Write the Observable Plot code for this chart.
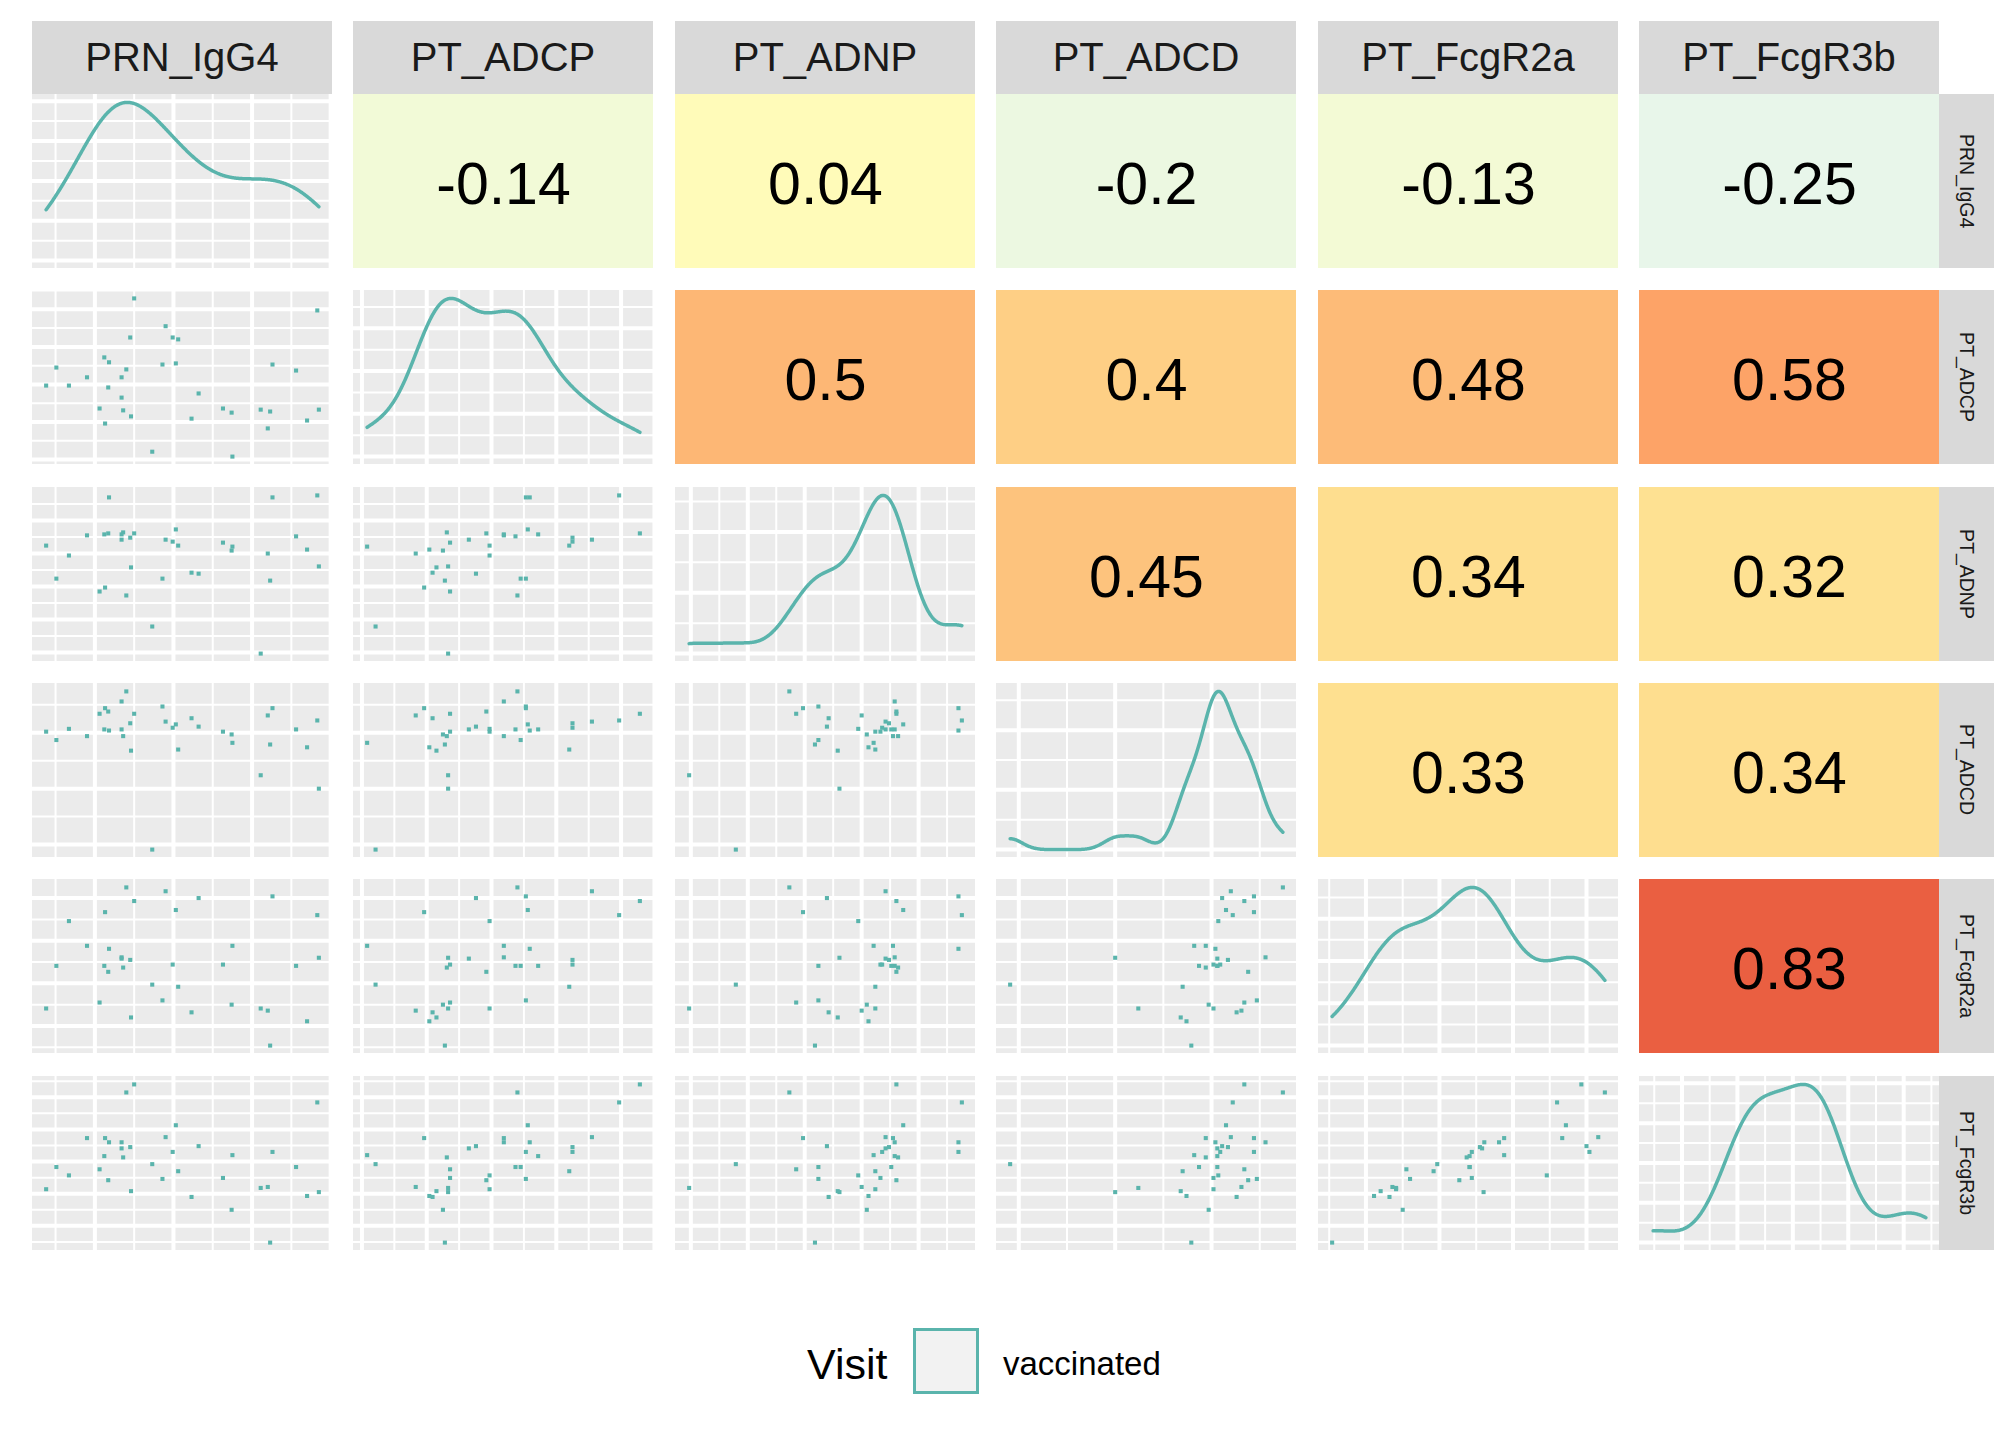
<!DOCTYPE html>
<html><head><meta charset="utf-8">
<script src="https://cdn.jsdelivr.net/npm/d3@7"></script>
<script src="https://cdn.jsdelivr.net/npm/@observablehq/plot@0.6"></script>
<style>
html,body{margin:0;padding:0;background:#fff;}
#chart{position:relative;width:2016px;height:1440px;font-family:"Liberation Sans",Arial,sans-serif;overflow:hidden;}
.abs{position:absolute;}
.abs svg{display:block;}
.strip-top{background:#d9d9d9;display:flex;align-items:center;justify-content:center;color:#1a1a1a;font-size:40px;}
.strip-right{background:#d9d9d9;display:flex;align-items:center;justify-content:center;color:#1a1a1a;font-size:19.5px;writing-mode:vertical-rl;}
</style></head><body><div id="chart"></div><script>
// ---- data (arbitrary units) ----
const variables = ["PRN_IgG4","PT_ADCP","PT_ADNP","PT_ADCD","PT_FcgR2a","PT_FcgR3b"];
const PRN_IgG4 = [0.38,0.51,0.67,0.90,1.06,1.12,1.13,1.17,1.18,1.34,1.34,1.36,1.40,1.45,1.46,1.50,1.73,1.86,1.90,1.99,2.03,2.06,2.23,2.32,2.63,2.74,2.75,3.11,3.20,3.23,3.26,3.56,3.70,3.83,3.85];
const PT_ADCP = [2.97,3.45,2.97,3.19,2.36,3.72,1.96,2.92,3.59,3.19,2.65,2.31,3.40,4.25,2.15,5.29,1.21,3.53,4.55,4.25,3.56,4.20,2.09,2.76,2.36,2.25,1.08,2.33,1.83,2.28,3.53,3.37,2.04,4.97,2.33];
const PT_ADNP = [4.24,3.24,3.94,4.55,2.85,4.58,2.97,4.61,5.70,4.58,4.42,4.64,2.73,4.48,3.58,4.61,1.79,3.24,4.42,4.36,4.73,4.24,3.42,3.39,4.33,4.09,4.21,0.97,4.00,3.18,5.70,4.52,4.12,5.76,3.61];
const PT_ADCD = [3.02,2.87,3.07,2.94,3.34,3.06,3.44,3.38,3.04,3.56,3.06,2.94,3.74,3.17,2.68,3.34,0.91,3.47,3.20,3.09,3.15,2.70,3.26,3.11,3.02,2.97,2.82,2.24,3.31,2.79,3.44,3.06,2.74,3.22,2.00];
const PT_FcgR2a = [1.41,2.41,3.46,2.88,1.55,2.41,3.67,2.27,2.81,2.61,2.58,2.37,4.25,2.55,1.20,3.93,1.97,1.60,4.16,2.44,3.72,1.92,1.32,4.00,2.44,1.50,2.88,1.41,1.36,0.54,4.04,2.41,1.11,3.60,2.60];
const PT_FcgR3b = [2.14,2.83,2.57,3.73,2.76,3.17,3.73,2.42,3.60,3.60,3.41,3.13,5.15,3.45,2.08,5.40,2.92,2.46,3.76,3.30,4.13,2.70,1.90,3.48,2.49,1.50,3.20,2.18,2.21,0.48,3.30,2.83,1.93,4.84,2.05];
// correlations shown in the upper triangle, row by row
const corrValues = [-0.14,0.04,-0.2,-0.13,-0.25, 0.5,0.4,0.48,0.58, 0.45,0.34,0.32, 0.33,0.34, 0.83];
const corrColorDomain = [-1,-2/3,-1/3,0,1/3,2/3,1];
const corrColorRange = ["#4575b4","#91bfdb","#e0f3f8","#ffffbf","#fee090","#fc8d59","#d73027"];
const legendTitle = "Visit";
const legendLabel = "vaccinated";

// ---- helpers ----
const series = {PRN_IgG4, PT_ADCP, PT_ADNP, PT_ADCD, PT_FcgR2a, PT_FcgR3b};
const teal = "#5ab4ac";
const FONT = "Liberation Sans, Arial, sans-serif";
const W = 300, H = 174;
const colLeft = j => Math.round(32 + j * 321.4);
const rowTop = i => Math.round(94 + i * 196.3);
const chart = document.getElementById("chart");

function expanded(vals) {
  const [a, b] = d3.extent(vals);
  const p = (b - a) * 0.05;
  return [a - p, b + p];
}
function gridTicks(dom) {
  const [lo, hi] = dom;
  const major = d3.range(Math.ceil(lo), Math.floor(hi) + 1).filter(v => v > lo && v < hi);
  const minor = d3.range(Math.floor(lo) + 0.5, hi, 1).filter(v => v > lo && v < hi);
  return {major, minor};
}
function densityTicks(dom) {
  const [lo, hi] = dom;
  const major = d3.ticks(lo, hi, 4).filter(v => v > lo && v < hi);
  const inc = d3.tickIncrement(lo, hi, 4);
  const step = inc > 0 ? inc : 1 / -inc;
  const minor = [];
  if (major.length) {
    for (let v = major[0] - step / 2; v < hi; v += step) if (v > lo) minor.push(v);
  }
  return {major, minor};
}
function kde(vals) {
  const n = vals.length;
  const sd = d3.deviation(vals);
  const sorted = vals.slice().sort(d3.ascending);
  const iqr = d3.quantileSorted(sorted, 0.75) - d3.quantileSorted(sorted, 0.25);
  let lo = Math.min(sd, iqr / 1.34);
  if (!(lo > 0)) lo = sd;
  const bw = 0.9 * lo * Math.pow(n, -0.2);
  const [a, b] = d3.extent(vals);
  const pts = [];
  for (let k = 0; k < 512; k++) {
    const x = a + (b - a) * k / 511;
    let s = 0;
    for (const v of vals) { const u = (x - v) / bw; s += Math.exp(-0.5 * u * u); }
    pts.push({x, y: s / (n * bw * Math.sqrt(2 * Math.PI))});
  }
  return pts;
}
function gridMarks(xt, yt) {
  const g = {stroke: "#ffffff", strokeOpacity: 1};
  return [
    Plot.gridX(xt.minor, {...g, strokeWidth: 2}),
    Plot.gridY(yt.minor, {...g, strokeWidth: 2}),
    Plot.gridX(xt.major, {...g, strokeWidth: 4}),
    Plot.gridY(yt.major, {...g, strokeWidth: 4})
  ];
}
function place(el, left, top) {
  const d = document.createElement("div");
  d.className = "abs";
  d.style.left = left + "px";
  d.style.top = top + "px";
  d.appendChild(el);
  chart.appendChild(d);
}

const idx = d3.range(PRN_IgG4.length);
let corrIndex = 0;
for (let i = 0; i < variables.length; i++) {
  for (let j = 0; j < variables.length; j++) {
    const xv = variables[j], yv = variables[i];
    const xd = expanded(series[xv]);
    let svg;
    if (i === j) {
      const pts = kde(series[xv]);
      const M = d3.max(pts, d => d.y);
      const yd = [-0.05 * M, 1.05 * M];
      svg = Plot.plot({
        width: W, height: H, margin: 0,
        style: {background: "#ebebeb", fontFamily: FONT},
        x: {domain: xd, axis: null}, y: {domain: yd, axis: null},
        marks: [
          ...gridMarks(gridTicks(xd), densityTicks(yd)),
          Plot.line(pts, {x: "x", y: "y", stroke: teal, strokeWidth: 3.5})
        ]
      });
    } else if (i > j) {
      const yd = expanded(series[yv]);
      svg = Plot.plot({
        width: W, height: H, margin: 0,
        style: {background: "#ebebeb", fontFamily: FONT},
        x: {domain: xd, axis: null}, y: {domain: yd, axis: null},
        marks: [
          ...gridMarks(gridTicks(xd), gridTicks(yd)),
          Plot.dot(idx, {x: k => series[xv][k], y: k => series[yv][k], symbol: "square", r: 2.3, fill: teal, stroke: null})
        ]
      });
    } else {
      const r = corrValues[corrIndex++];
      svg = Plot.plot({
        width: W, height: H, margin: 0,
        style: {background: "#ffffff", fontFamily: FONT},
        x: {axis: null, padding: 0}, y: {axis: null, padding: 0},
        color: {type: "linear", domain: corrColorDomain, range: corrColorRange, interpolate: "rgb"},
        marks: [
          Plot.cell([r], {x: () => xv, y: () => yv, fill: d => d, inset: 0}),
          Plot.text([r], {text: d => String(d), frameAnchor: "middle", fontSize: 59, fill: "#000000", dy: 4})
        ]
      });
    }
    place(svg, colLeft(j), rowTop(i));
  }
}
// strips
variables.forEach((v, j) => {
  const s = document.createElement("div");
  s.className = "strip-top";
  s.style.width = W + "px"; s.style.height = "73px";
  s.textContent = v;
  place(s, colLeft(j), 21);
});
variables.forEach((v, i) => {
  const s = document.createElement("div");
  s.className = "strip-right";
  s.style.width = "55px"; s.style.height = H + "px";
  s.textContent = v;
  place(s, 1939, rowTop(i));
});
// legend
const ns = "http://www.w3.org/2000/svg";
const lg = document.createElementNS(ns, "svg");
lg.setAttribute("width", 420); lg.setAttribute("height", 110);
lg.style.fontFamily = FONT;
lg.innerHTML = `<text x="27" y="79" font-size="43" fill="#000">${legendTitle}</text>
<rect x="134.5" y="29.5" width="63" height="63" fill="#f2f2f2" stroke="${teal}" stroke-width="3"/>
<text x="223" y="75" font-size="33" fill="#000">${legendLabel}</text>`;
place(lg, 780, 1300);
</script></body></html>
